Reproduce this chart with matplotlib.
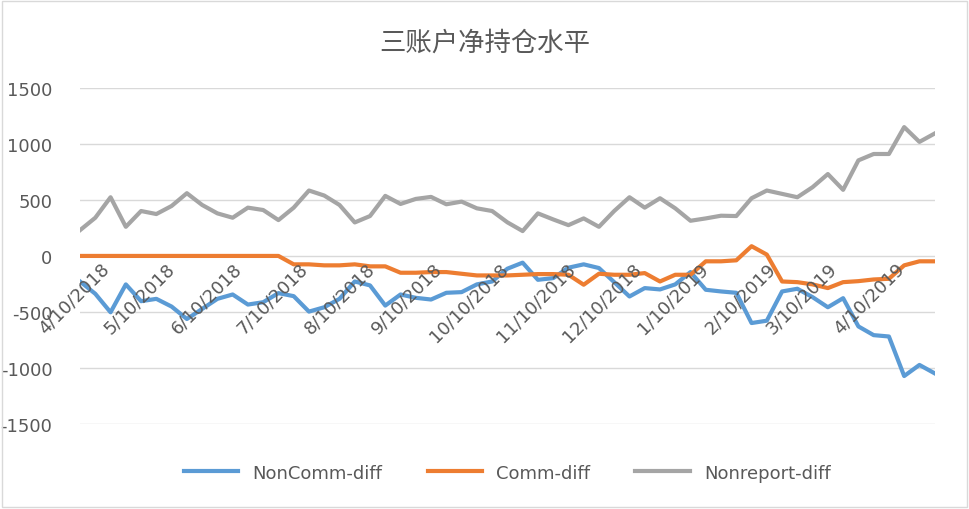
import matplotlib
matplotlib.use("Agg")
import matplotlib.pyplot as plt
import pandas as pd
from matplotlib.patches import Rectangle

plt.rcParams['font.family'] = ['DejaVu Sans', 'Noto Sans CJK SC', 'Noto Sans CJK JP']

dates = pd.date_range("2018-04-10", periods=57, freq="7D")
noncomm = [-228,-338,-503,-254,-404,-383,-452,-563,-473,-383,-344,-434,-413,-332,-359,-497,-458,-383,-228,-263,-443,-344,-374,-389,-329,-323,-254,-228,-114,
           -60,-213,-198,-105,-75,-108,-234,-362,-287,-299,-254,-144,-302,-317,-329,-599,-578,-317,-293,-368,-458,-377,-629,-707,-719,-1072,-973,-1048]
comm = [0]*14 + [-75,-75,-84,-84,-75,-93,-93,-150,-150,-144,-144,-159,-174,-174,-174,
        -168,-162,-162,-168,-257,-159,-168,-168,-153,-228,-168,-168,-48,-48,-39,87,12,-228,-234,-254,-287,-234,-225,-210,-204,-84,-48,-48]
nonrep = [230,341,524,260,401,374,446,560,455,380,341,431,410,320,431,584,539,455,299,356,536,464,509,527,461,485,425,401,300,
          222,380,326,275,335,260,401,524,431,515,425,314,335,359,356,515,584,554,524,614,731,590,853,910,910,1150,1018,1093]
yticks = [-1500,-1000,-500,0,500,1000,1500]
xtick_dates = pd.date_range("2018-04-01", "2019-04-10", freq="MS") + pd.Timedelta(days=9)

fig = plt.figure(figsize=(9.69,5.10), dpi=100)
ax = fig.add_axes([0.0826, 0.1667, 0.882, 0.659])
ax.plot(dates, noncomm, color='#5B9BD5', lw=3, label='NonComm-diff')
ax.plot(dates, comm, color='#ED7D31', lw=3, label='Comm-diff')
ax.plot(dates, nonrep, color='#A5A5A5', lw=3, label='Nonreport-diff')
ax.set_ylim(-1500,1500)
ax.set_xlim(dates[0], dates[-1])
ax.set_yticks(yticks)
ax.set_yticklabels([str(v) for v in yticks], color='#595959', fontsize=13)
ax.tick_params(axis='y', length=0, pad=20)
ax.set_xticks([])
ax.grid(axis='y', color='#D9D9D9', lw=1)
ax.set_axisbelow(True)
for s in ax.spines.values():
    s.set_visible(False)
for d in xtick_dates:
    ax.text(d + pd.Timedelta(days=9), -25, f"{d.month}/{d.day}/{d.year}", rotation=45,
            ha='right', va='top', rotation_mode='anchor', color='#595959', fontsize=13)
fig.text(0.5, 0.915, '三账户净持仓水平', ha='center', va='center', fontsize=19,
         color='#595959')
ax.legend(loc='upper center', bbox_to_anchor=(0.5, -0.07), ncol=3, frameon=False,
          fontsize=13, labelcolor='#595959', handlelength=3, columnspacing=2.5)
fig.patches.append(Rectangle((0.002,0.004),0.996,0.992, transform=fig.transFigure,
                             fill=False, edgecolor='#D9D9D9', lw=1))
fig.savefig("out.png", dpi=100)
